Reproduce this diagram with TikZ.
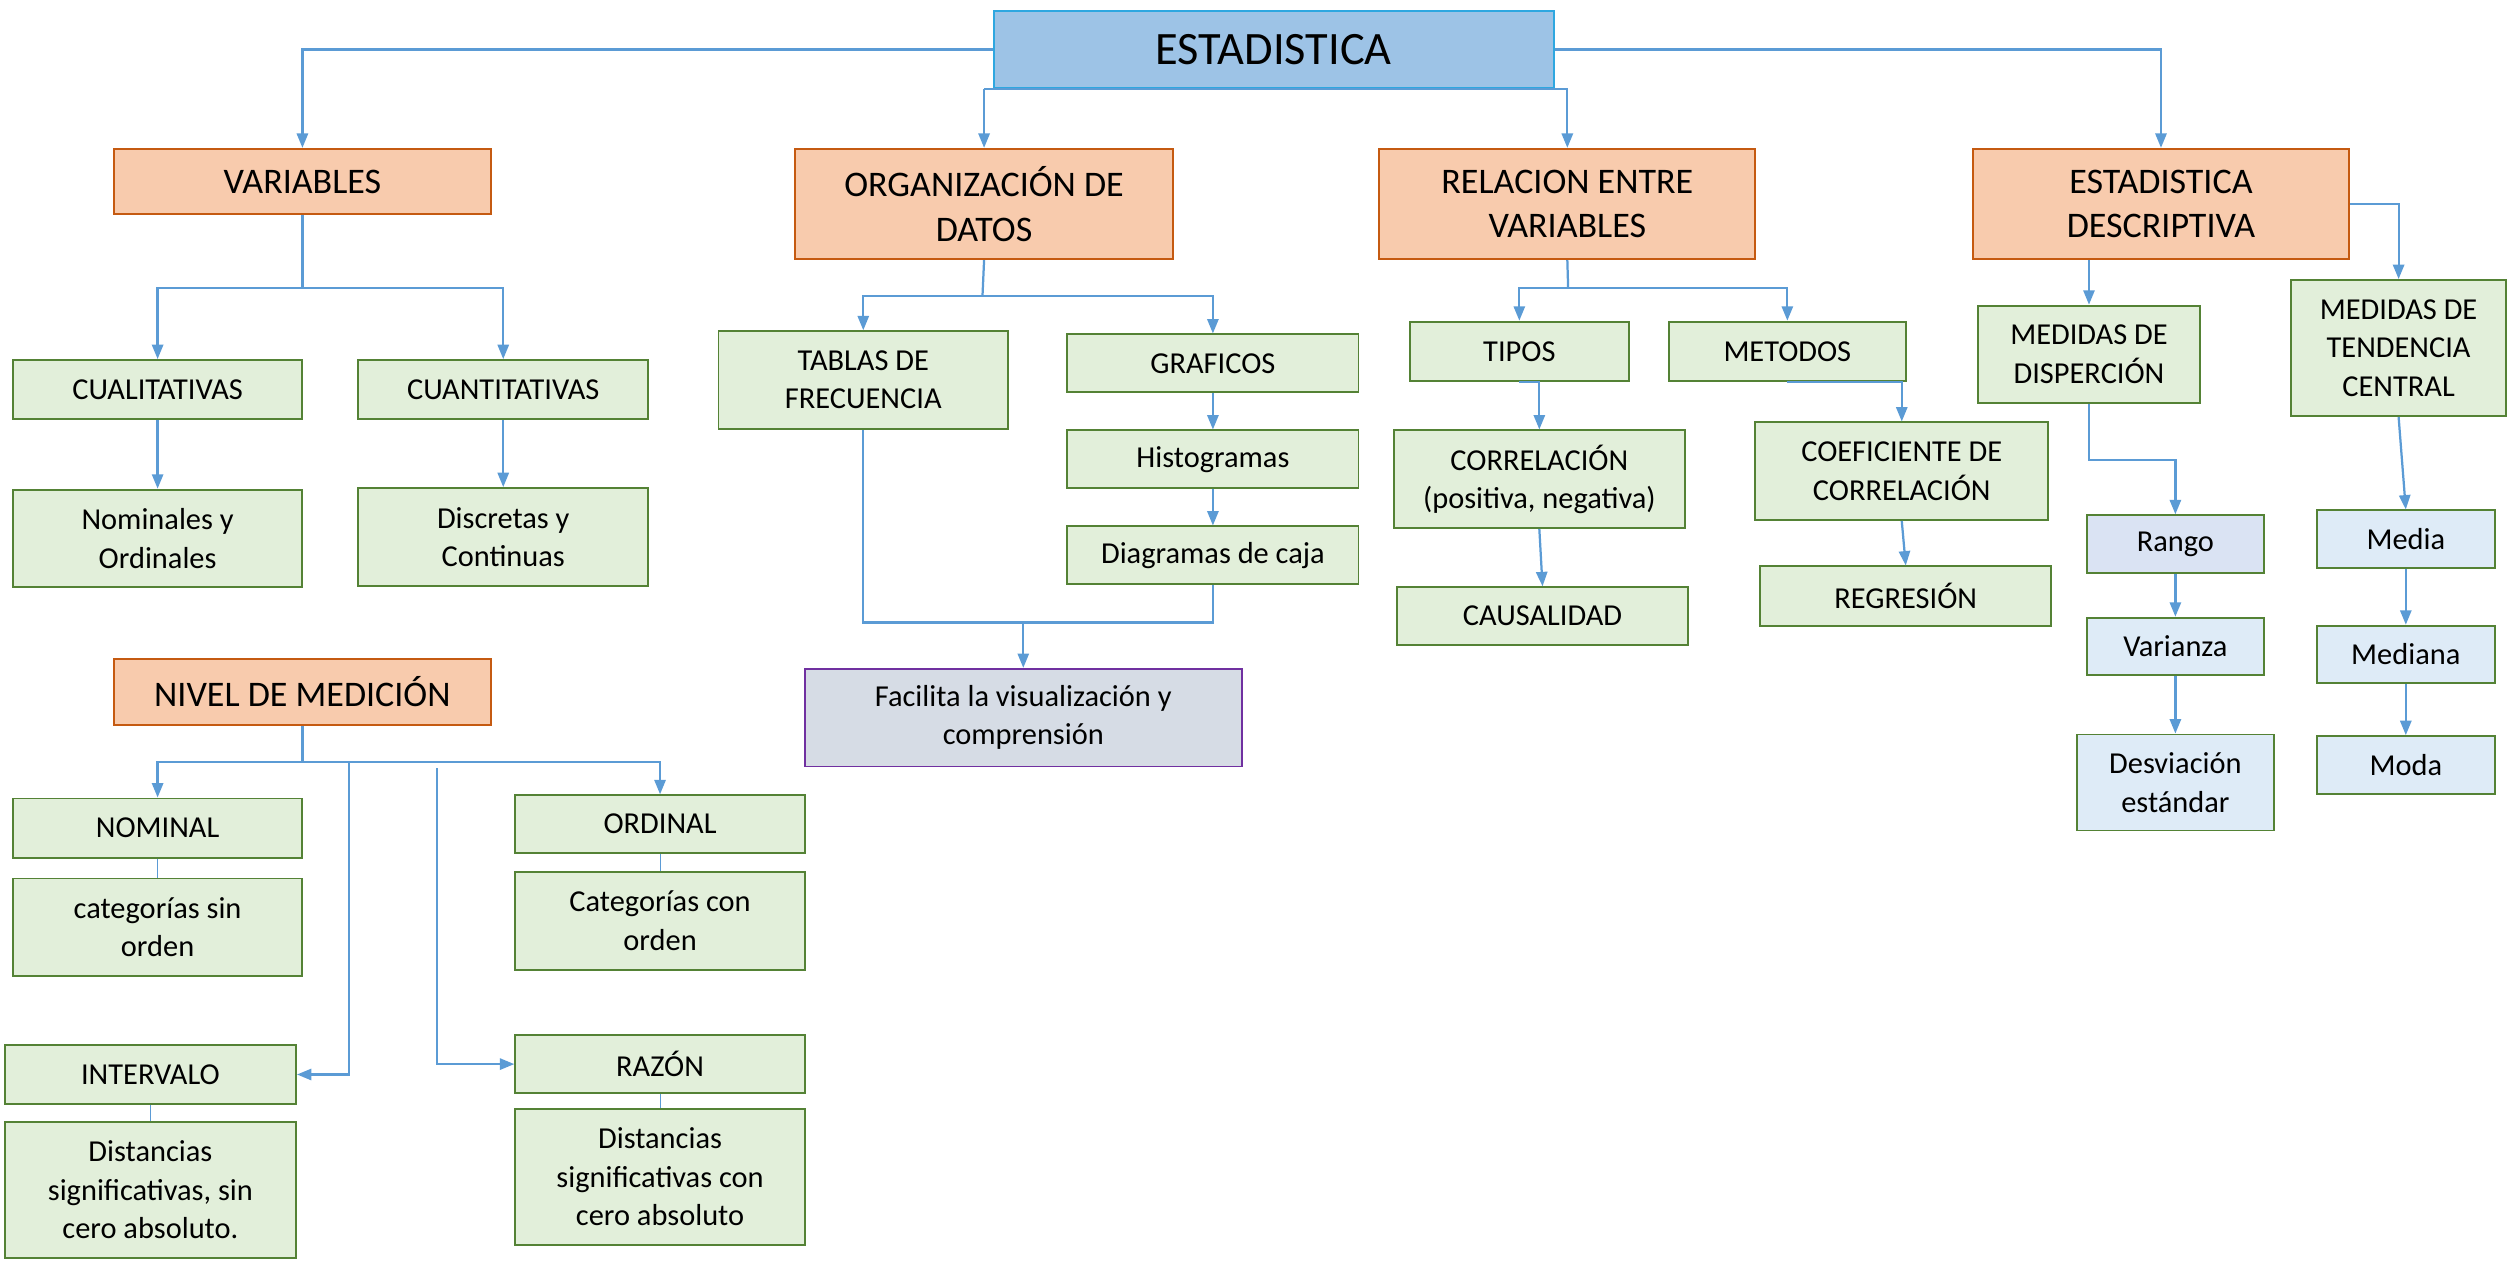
\documentclass[tikz,border=0pt]{standalone}
\usepackage{fontspec}
\setmainfont{Carlito}
\usetikzlibrary{arrows.meta}
\definecolor{lineblue}{HTML}{5B9BD5}
\definecolor{titlefill}{HTML}{9DC3E6}
\definecolor{titledraw}{HTML}{2EA7E0}
\definecolor{orfill}{HTML}{F8CBAD}
\definecolor{ordraw}{HTML}{C55A11}
\definecolor{grfill}{HTML}{E2EFDA}
\definecolor{grdraw}{HTML}{548235}
\definecolor{bl1}{HTML}{DAE3F3}
\definecolor{bl2}{HTML}{DEEBF7}
\definecolor{facfill}{HTML}{D6DCE5}
\definecolor{facdraw}{HTML}{7030A0}
\newcommand{\mybox}[7]{%
 \pgfmathsetmacro\mybw{#5-#3}\pgfmathsetmacro\mybh{#6-#4}%
 \pgfmathsetmacro\mycx{(#3+#5)/2}\pgfmathsetmacro\mycy{(#4+#6)/2}%
 \node[#1, minimum width=\mybw pt, minimum height=\mybh pt] (#2) at (\mycx,\mycy) {#7};}
\tikzset{
 basebox/.style={draw, line width=1.2pt, inner sep=0pt, align=center},
 titlebox/.style={basebox, fill=titlefill, draw=titledraw, font=\fontsize{29}{35}\selectfont},
 orbox/.style={basebox, fill=orfill, draw=ordraw, font=\fontsize{22.5}{28}\selectfont},
 grbox/.style={basebox, fill=grfill, draw=grdraw, font=\fontsize{19}{24}\selectfont},
 blabox/.style={grbox, fill=bl1},
 blbbox/.style={grbox, fill=bl2},
 facbox/.style={grbox, fill=facfill, draw=facdraw},
 conn/.style={draw=lineblue, line width=1.4pt},
 arr/.style={conn, -{Triangle[length=9pt,width=7pt]}},
 thin/.style={draw=lineblue, line width=0.6pt},
}
\begin{document}
\begin{tikzpicture}[x=1pt,y=-1pt]
\useasboundingbox (0,0) rectangle (1568,788);
% title
\mybox{titlebox}{est}{621}{7}{971}{55}{ESTADISTICA}
% level 1
\mybox{orbox}{var}{71}{93}{307}{134}{VARIABLES}
\mybox{orbox}{org}{497}{93}{733}{162}{ORGANIZACIÓN DE\\DATOS}
\mybox{orbox}{rel}{862}{93}{1097}{162}{RELACION ENTRE\\VARIABLES}
\mybox{orbox}{desc}{1233}{93}{1468}{162}{ESTADISTICA\\DESCRIPTIVA}
\mybox{orbox}{niv}{71}{412}{307}{453}{NIVEL DE MEDICIÓN}
% variables
\mybox{grbox}{cual}{8}{225}{189}{262}{CUALITATIVAS}
\mybox{grbox}{cuan}{224}{225}{405}{262}{CUANTITATIVAS}
\mybox{grbox}{nomord}{8}{306}{189}{367}{Nominales y\\Ordinales}
\mybox{grbox}{disc}{224}{305}{405}{366}{Discretas y\\Continuas}
% organizacion
\mybox{grbox}{tab}{449}{207}{630}{268}{TABLAS DE\\FRECUENCIA}
\mybox{grbox}{graf}{667}{209}{849}{245}{GRAFICOS}
\mybox{grbox}{hist}{667}{269}{849}{305}{Histogramas}
\mybox{grbox}{diag}{667}{329}{849}{365}{Diagramas de caja}
\mybox{facbox}{fac}{503}{418}{776}{479}{Facilita la visualización y\\comprensión}
% relacion
\mybox{grbox}{tip}{881}{201}{1018}{238}{TIPOS}
\mybox{grbox}{met}{1043}{201}{1191}{238}{METODOS}
\mybox{grbox}{corr}{871}{269}{1053}{330}{CORRELACIÓN\\(positiva, negativa)}
\mybox{grbox}{caus}{873}{367}{1055}{403}{CAUSALIDAD}
\mybox{grbox}{coef}{1097}{264}{1280}{325}{COEFICIENTE DE\\CORRELACIÓN}
\mybox{grbox}{reg}{1100}{354}{1282}{391}{REGRESIÓN}
% descriptiva
\mybox{grbox}{disp}{1236}{191}{1375}{252}{MEDIDAS DE\\DISPERCIÓN}
\mybox{grbox}{tend}{1432}{175}{1566}{260}{MEDIDAS DE\\TENDENCIA\\CENTRAL}
\mybox{blabox}{rango}{1304}{322}{1415}{358}{Rango}
\mybox{blbbox}{vari}{1304}{386}{1415}{422}{Varianza}
\mybox{blbbox}{desv}{1298}{459}{1421}{519}{Desviación\\estándar}
\mybox{blbbox}{media}{1448}{319}{1559}{355}{Media}
\mybox{blbbox}{mediana}{1448}{391}{1559}{427}{Mediana}
\mybox{blbbox}{moda}{1448}{460}{1559}{496}{Moda}
% nivel de medicion
\mybox{grbox}{nom}{8}{499}{189}{536}{NOMINAL}
\mybox{grbox}{cat1}{8}{549}{189}{610}{categorías sin\\orden}
\mybox{grbox}{ord}{322}{497}{503}{533}{ORDINAL}
\mybox{grbox}{cat2}{322}{545}{503}{606}{Categorías con\\orden}
\mybox{grbox}{int}{3}{653}{185}{690}{INTERVALO}
\mybox{grbox}{dist1}{3}{701}{185}{786}{Distancias\\significativas, sin\\cero absoluto.}
\mybox{grbox}{raz}{322}{647}{503}{683}{RAZÓN}
\mybox{grbox}{dist2}{322}{693}{503}{778}{Distancias\\significativas con\\cero absoluto}
% coordinates
\coordinate (vj) at (189,180);
\coordinate (oj) at (614,185);
\coordinate (oj2) at (0,389);
\coordinate (rj) at (980,180);
\coordinate (nj) at (189,476);
\coordinate (n1) at (218,476);
\coordinate (n2) at (273,480);
% top connectors
\draw[arr] (est.west) -| (var.north);
\draw[arr] (est.south -| org.north) -- (org.north);
\draw[arr] (est.south -| org.north) -- (est.south -| rel.north) -- (rel.north);
\draw[arr] (est.east) -| (desc.north);
% variables
\draw[conn] (var.south) -- (vj);
\draw[arr] (vj) -| (cual.north);
\draw[arr] (vj) -| (cuan.north);
\draw[arr] (cual.south) -- (nomord.north);
\draw[arr] (cuan.south) -- (disc.north);
% organizacion
\draw[conn] (org.south) -- (oj);
\draw[arr] (oj) -| (tab.north);
\draw[arr] (oj) -| (graf.north);
\draw[arr] (graf.south) -- (hist.north);
\draw[arr] (hist.south) -- (diag.north);
\draw[conn] (tab.south) |- (oj2 -| diag.south) -- (diag.south);
\draw[arr] (oj2 -| fac.north) -- (fac.north);
% relacion
\draw[conn] (rel.south) -- (rj);
\draw[arr] (rj) -| (tip.north);
\draw[arr] (rj) -| (met.north);
\draw[arr] (tip.south) -| (corr.north);
\draw[arr] (corr.south) -- (caus.north);
\draw[arr] (met.south) -| (coef.north);
\draw[arr] (coef.south) -- (reg.north);
% descriptiva
\draw[arr] (desc.south -| disp.north) -- (disp.north);
\draw[arr] (desc.east) -| (tend.north);
\draw[arr] (disp.south) -- ++(0,35) -| (rango.north);
\draw[arr] (rango.south) -- (vari.north);
\draw[arr] (vari.south) -- (desv.north);
\draw[arr] (tend.south) -- (media.north);
\draw[arr] (media.south) -- (mediana.north);
\draw[arr] (mediana.south) -- (moda.north);
% nivel
\draw[conn] (niv.south) -- (nj);
\draw[arr] (nj) -| (nom.north);
\draw[arr] (nj) -| (ord.north);
\draw[arr] (n1) |- (int.east);
\draw[arr] (n2) |- (raz.west);
\draw[thin] (nom.south) -- (cat1.north);
\draw[thin] (ord.south) -- (cat2.north);
\draw[thin] (int.south) -- (dist1.north);
\draw[thin] (raz.south) -- (dist2.north);
\end{tikzpicture}
\end{document}
